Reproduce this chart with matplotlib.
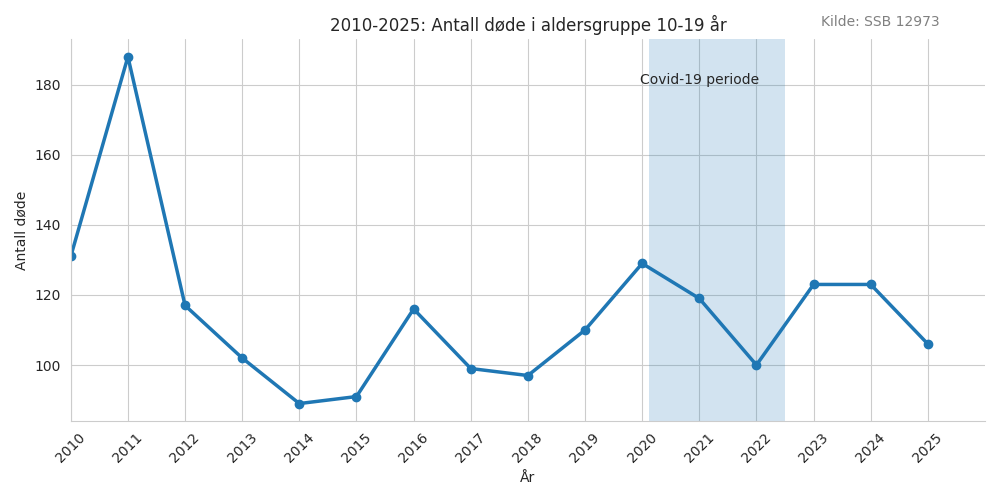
import numpy as np
import matplotlib
matplotlib.use("Agg")
import matplotlib.pyplot as plt
import seaborn as sns

# Data: antall døde i aldersgruppe 10-19 år (SSB 12973)
aar = [2010, 2011, 2012, 2013, 2014, 2015, 2016, 2017,
       2018, 2019, 2020, 2021, 2022, 2023, 2024, 2025]
dode = [131, 188, 117, 102, 89, 91, 116, 99,
        97, 110, 129, 119, 100, 123, 123, 106]
covid_start = 2020.12
covid_slutt = 2022.5

sns.set_style("whitegrid")

fig, ax = plt.subplots(figsize=(10, 5), dpi=100)

ax.axvspan(covid_start, covid_slutt, color="tab:blue", alpha=0.2, lw=0)
ax.plot(aar, dode, marker="o", color="tab:blue", linewidth=2.5, markersize=6)

ax.text(2021, 181.4, "Covid-19 periode", ha="center", va="center", fontsize=10, color="#262626")
ax.text(0.95, 1.045, "Kilde: SSB 12973", transform=ax.transAxes, ha="right", va="center",
        fontsize=10, color="gray")

ax.set_title("2010-2025: Antall døde i aldersgruppe 10-19 år")
ax.set_xlabel("År")
ax.set_ylabel("Antall døde")
ax.set_xticks(aar)
ax.set_xticklabels([str(a) for a in aar], rotation=45)
ax.set_xlim(2010, 2026)

sns.despine()
plt.tight_layout()
plt.savefig("out.png")
